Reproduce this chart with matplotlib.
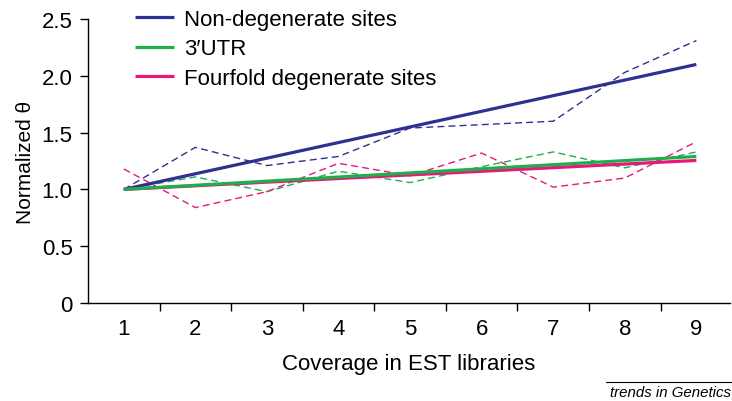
import matplotlib
matplotlib.use("Agg")
import matplotlib.pyplot as plt

plt.rcParams['font.family'] = ['Liberation Sans', 'DejaVu Sans']

# coverage classes
coverage = [1, 2, 3, 4, 5, 6, 7, 8, 9]

# observed normalized theta (dashed)
nondeg = [1.00, 1.37, 1.21, 1.29, 1.54, 1.57, 1.60, 2.03, 2.31]
utr3 = [1.00, 1.11, 0.98, 1.16, 1.06, 1.20, 1.33, 1.19, 1.33]
fourfold = [1.18, 0.84, 0.98, 1.23, 1.12, 1.32, 1.02, 1.10, 1.42]

# fitted trends (solid), start and end points
trend_x = [1, 9]
nondeg_fit = [1.00, 2.10]
utr3_fit = [1.00, 1.29]
fourfold_fit = [1.00, 1.255]

labels = ['Non-degenerate sites', '3\u2032UTR', 'Fourfold degenerate sites']
blue = '#2e3192'
green = '#20ae4c'
pink = '#e8177c'
fs = 16

fig = plt.figure(figsize=(7.32, 4.02), dpi=100)
ax = fig.add_axes([88/732, 98/402, 642/732, 284/402])

ax.plot(coverage, nondeg, '--', color=blue, lw=1.0, dashes=(5, 3))
ax.plot(coverage, utr3, '--', color=green, lw=1.0, dashes=(5, 3))
ax.plot(coverage, fourfold, '--', color=pink, lw=1.0, dashes=(5, 3))

h1, = ax.plot(trend_x, nondeg_fit, color=blue, lw=2.3, solid_capstyle='butt')
h3, = ax.plot(trend_x, fourfold_fit, color=pink, lw=2.3, solid_capstyle='butt')
h2, = ax.plot(trend_x, utr3_fit, color=green, lw=2.3, solid_capstyle='butt')

fig.legend([h1, h2, h3], labels, loc='upper left',
           bbox_to_anchor=(135/732, 1 - 10/402),
           frameon=False, fontsize=fs, handlelength=1.75, handletextpad=0.45,
           labelspacing=0.38, borderaxespad=0, borderpad=0)

ax.set_xlim(0.5, 9.47)
ax.set_ylim(0, 2.5)
ax.set_yticks([0, 0.5, 1.0, 1.5, 2.0, 2.5])
ax.set_yticklabels(['0', '0.5', '1.0', '1.5', '2.0', '2.5'])
ax.set_xticks(coverage)
ax.set_xticklabels([str(c) for c in coverage])
ax.set_xticks([c + 0.5 for c in coverage[:-1]], minor=True)
ax.tick_params(axis='x', which='major', length=0, pad=11, labelsize=fs)
ax.tick_params(axis='x', which='minor', length=6, width=1, direction='out')
ax.tick_params(axis='y', length=6, width=1, direction='out', pad=5, labelsize=fs)

for s in ['top', 'right']:
    ax.spines[s].set_visible(False)
ax.spines['left'].set_linewidth(1)
ax.spines['bottom'].set_linewidth(1)

ax.set_xlabel('Coverage in EST libraries', fontsize=fs, labelpad=10)
ax.set_ylabel('Normalized \u03b8', fontsize=15, labelpad=5)

fig.text(731/732, 1 - 393/402, 'trends in Genetics', ha='right', va='center',
         style='italic', fontsize=10.8)
fig.add_artist(plt.Line2D([606/732, 732/732], [1 - 383/402, 1 - 383/402],
                          transform=fig.transFigure, color='black', lw=0.8))

fig.savefig('out.png', dpi=100)
